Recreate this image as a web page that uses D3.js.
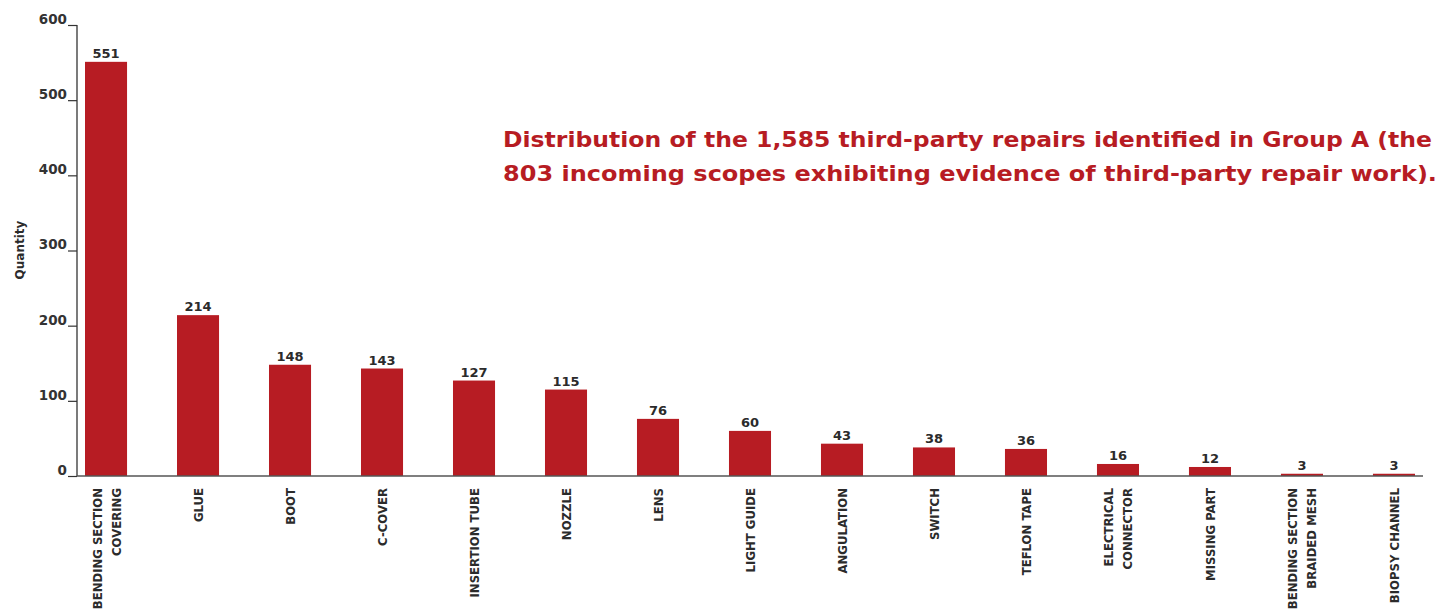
<!DOCTYPE html>
<html>
<head>
<meta charset="utf-8">
<script src="https://cdn.jsdelivr.net/npm/d3@7"></script>
<style>
  html, body { margin: 0; padding: 0; background: #fff; }
  svg { display: block; }
</style>
</head>
<body>
<svg id="chart" width="1439" height="612"></svg>
<script>
// Repair categories (multi-line labels split on "|")
const categories = [
  "BENDING SECTION|COVERING", "GLUE", "BOOT", "C-COVER", "INSERTION TUBE",
  "NOZZLE", "LENS", "LIGHT GUIDE", "ANGULATION", "SWITCH",
  "TEFLON TAPE", "ELECTRICAL|CONNECTOR", "MISSING PART",
  "BENDING SECTION|BRAIDED MESH", "BIOPSY CHANNEL"
];
const quantities = [551, 214, 148, 143, 127, 115, 76, 60, 43, 38, 36, 16, 12, 3, 3];
const yTicks = [0, 100, 200, 300, 400, 500, 600];
const titleLines = [
  "Distribution of the 1,585 third-party repairs identified in Group A (the",
  "803 incoming scopes exhibiting evidence of third-party repair work)."
];

const RED = "#b71c23";
const INK = "#2b2b2b";

const svg = d3.select("#chart");

const x = d3.scaleBand()
  .domain(categories)
  .range([77, 1423])
  .paddingInner(0.543)
  .paddingOuter(0.087);

const y = d3.scaleLinear().domain([0, 600]).range([476, 25]);

// Bars
svg.append("g").selectAll("rect")
  .data(quantities)
  .join("rect")
  .attr("x", (d, i) => x(categories[i]))
  .attr("width", x.bandwidth())
  .attr("y", d => y(d))
  .attr("height", d => y(0) - y(d))
  .attr("fill", RED);

// Value labels
svg.append("g").selectAll("text")
  .data(quantities)
  .join("text")
  .attr("x", (d, i) => x(categories[i]) + x.bandwidth() / 2)
  .attr("y", d => y(d) - 4)
  .attr("text-anchor", "middle")
  .attr("font-family", "'DejaVu Sans', sans-serif")
  .attr("font-weight", "bold")
  .attr("font-size", 13)
  .attr("fill", INK)
  .text(d => d);

// Y axis: vertical line, ticks to the left with labels sitting on them
const yAxis = d3.axisLeft(y).tickValues(yTicks).tickSize(9).tickPadding(2);
const gy = svg.append("g").attr("transform", "translate(77,0)").call(yAxis);
gy.select(".domain").attr("stroke", "#333").attr("stroke-width", 1.3)
  .attr("d", `M0,${y(600)}V${y(0)}`);
gy.selectAll(".tick line").attr("stroke", "#333").attr("stroke-width", 1.2);
gy.selectAll(".tick text")
  .attr("font-family", "'DejaVu Sans', sans-serif")
  .attr("font-weight", "bold")
  .attr("font-size", 13.5)
  .attr("fill", "#333")
  .attr("dy", "-0.12em")
  .attr("x", -10);

// Baseline
svg.append("line")
  .attr("x1", 77).attr("x2", 1423)
  .attr("y1", y(0)).attr("y2", y(0))
  .attr("stroke", "#555").attr("stroke-width", 1.6);

// Category labels, rotated, right-aligned against the baseline
const catG = svg.append("g");
categories.forEach(c => {
  const lines = c.split("|");
  const cx = x(c) + x.bandwidth() / 2;
  lines.forEach((ln, j) => {
    const off = (j - (lines.length - 1) / 2) * 19;
    catG.append("text")
      .attr("transform", `translate(${cx + off + 5},488) rotate(-90)`)
      .attr("text-anchor", "end")
      .attr("font-family", "'DejaVu Sans Condensed', 'DejaVu Sans', sans-serif")
      .attr("font-stretch", "condensed")
      .attr("font-weight", "bold")
      .attr("font-size", 13)
      .attr("fill", INK)
      .text(ln);
  });
});

// Y axis title
svg.append("text")
  .attr("transform", "translate(24,250) rotate(-90)")
  .attr("text-anchor", "middle")
  .attr("font-family", "'DejaVu Sans', sans-serif")
  .attr("font-weight", "bold")
  .attr("font-size", 12)
  .attr("fill", INK)
  .text("Quantity");

// Chart title
const titleWidths = [929, 934];
titleLines.forEach((t, i) => {
  svg.append("text")
    .attr("x", 503)
    .attr("y", 147 + i * 34)
    .attr("font-family", "'DejaVu Sans', sans-serif")
    .attr("font-weight", "bold")
    .attr("font-size", 22)
    .attr("fill", RED)
    .attr("textLength", titleWidths[i])
    .attr("lengthAdjust", "spacingAndGlyphs")
    .text(t);
});
</script>
</body>
</html>
